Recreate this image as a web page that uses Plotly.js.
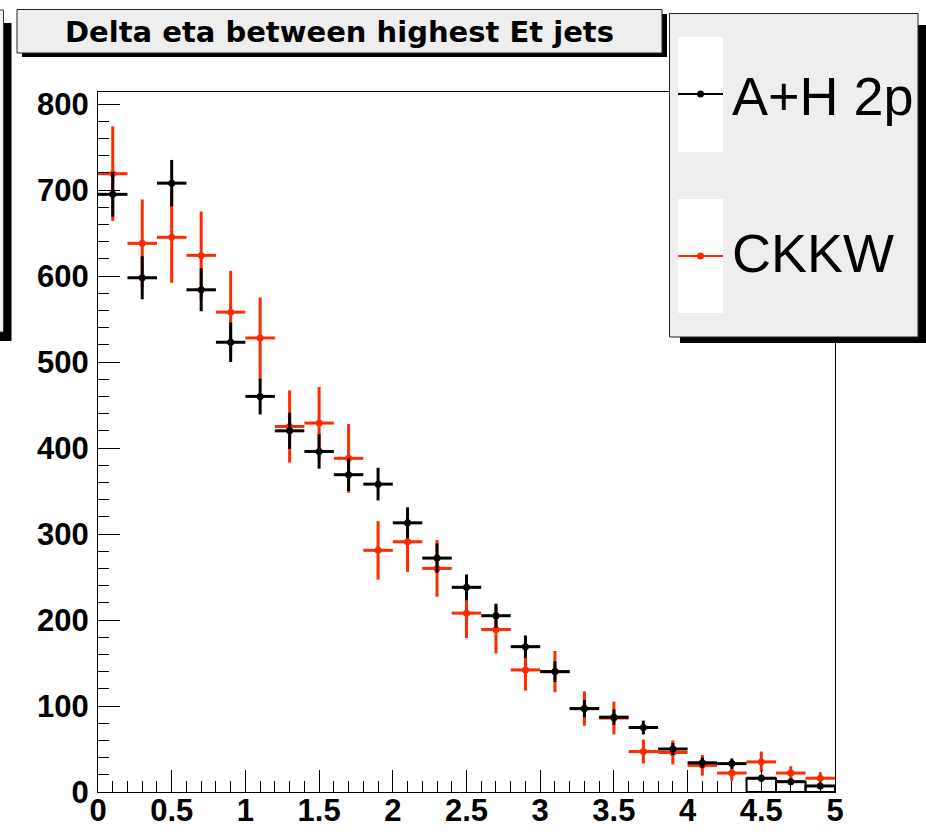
<!DOCTYPE html>
<html>
<head>
<meta charset="utf-8">
<script src="https://cdn.plot.ly/plotly-3.0.1.min.js"></script>
<style>html,body{margin:0;padding:0;background:#fff;}#chart{width:926px;height:832px;}</style>
</head>
<body>
<div id="chart"></div>
<script>
// ---- data ----
const binCenters = [0.1,0.3,0.5,0.7,0.9,1.1,1.3,1.5,1.7,1.9,2.1,2.3,2.5,2.7,2.9,3.1,3.3,3.5,3.7,3.9,4.1,4.3,4.5,4.7,4.9];
const binHalfWidth = 0.1;
const ahValues = [695,598,708,584,523,460,420,396,369,358,313,272,238,205,169,140,97,87,75,50,34,33,16,12,7];
const ahErrors = [26,25,27,25,23,21,21,20,19,19,18,17,15,14,13,12,10,9,8,7,6,6,4,3.5,2.6];
const ckkwValues = [719,638,645,624,558,528,425,429,388,281,291,260,208,189,142,140,97,86,47,46,31,22,35,22,16];
const ckkwErrors = [55,51,53,51,48,47,42,42,40,34,35,33,29,28,24,24,20,19,14,14,12,9,12,8,7];
const seriesNames = ["A+H 2p", "CKKW"];
const chartTitle = "Delta eta between highest Et jets";
const tailStart = 22; // bins drawn also as outlined histogram steps in the reference

// ---- layout helpers (pixel -> paper) ----
const L = 98, R = 835, T = 92, B = 792;
const W = R - L, H = B - T;
const X = px => (px - L) / W;
const Y = py => (B - py) / H;

const RED = '#ff2a00';

const traces = [
  {
    type: 'bar',
    x: binCenters.slice(tailStart),
    y: ahValues.slice(tailStart),
    width: 2 * binHalfWidth,
    marker: {color: 'rgba(255,255,255,0)', line: {color: '#000', width: 2}},
    showlegend: false,
    hoverinfo: 'skip'
  },
  {
    type: 'scatter', mode: 'markers', name: seriesNames[1],
    x: binCenters, y: ckkwValues,
    marker: {color: RED, size: 7},
    error_y: {type: 'data', array: ckkwErrors, visible: true, color: RED, thickness: 3, width: 0},
    error_x: {type: 'constant', value: binHalfWidth, visible: true, color: RED, thickness: 3, width: 0},
    showlegend: false
  },
  {
    type: 'scatter', mode: 'markers', name: seriesNames[0],
    x: binCenters, y: ahValues,
    marker: {color: '#000', size: 7},
    error_y: {type: 'data', array: ahErrors, visible: true, color: '#000', thickness: 3, width: 0},
    error_x: {type: 'constant', value: binHalfWidth, visible: true, color: '#000', thickness: 3, width: 0},
    showlegend: false
  }
];

const tickFont = {family: 'Liberation Sans, Arial, sans-serif', size: 31, color: '#000', weight: 'bold'};

const shapes = [
  // partial box at far left (another pad's shadowed box)
  {type:'rect', xref:'paper', yref:'paper', x0:X(0), x1:X(11.5), y0:Y(341), y1:Y(23), fillcolor:'#000', line:{width:0}, layer:'above'},
  {type:'rect', xref:'paper', yref:'paper', x0:X(-30), x1:X(3.5), y0:Y(332), y1:Y(10), fillcolor:'#f4f4f4', line:{color:'#333', width:1}, layer:'above'},
  // title box with shadow
  {type:'rect', xref:'paper', yref:'paper', x0:X(22), x1:X(667), y0:Y(57), y1:Y(14), fillcolor:'#000', line:{width:0}, layer:'above'},
  {type:'rect', xref:'paper', yref:'paper', x0:X(17), x1:X(662), y0:Y(53), y1:Y(9.5), fillcolor:'#eeeeee', line:{color:'#222', width:1}, layer:'above'},
  // legend box with shadow
  {type:'rect', xref:'paper', yref:'paper', x0:X(680), x1:X(926), y0:Y(343), y1:Y(25), fillcolor:'#000', line:{width:0}, layer:'above'},
  {type:'rect', xref:'paper', yref:'paper', x0:X(669.5), x1:X(918), y0:Y(337), y1:Y(13.5), fillcolor:'#eeeeee', line:{color:'#222', width:1}, layer:'above'},
  // legend symbol backgrounds
  {type:'rect', xref:'paper', yref:'paper', x0:X(678), x1:X(723), y0:Y(152), y1:Y(37), fillcolor:'#ffffff', line:{width:0}, layer:'above'},
  {type:'rect', xref:'paper', yref:'paper', x0:X(678), x1:X(723), y0:Y(313), y1:Y(199), fillcolor:'#ffffff', line:{width:0}, layer:'above'},
  // legend symbols
  {type:'line', xref:'paper', yref:'paper', x0:X(678), x1:X(723), y0:Y(94), y1:Y(94), line:{color:'#000', width:2}, layer:'above'},
  {type:'circle', xref:'paper', yref:'paper', x0:X(697), x1:X(704), y0:Y(97.5), y1:Y(90.5), fillcolor:'#000', line:{width:0}, layer:'above'},
  {type:'line', xref:'paper', yref:'paper', x0:X(678), x1:X(723), y0:Y(256), y1:Y(256), line:{color:RED, width:2}, layer:'above'},
  {type:'circle', xref:'paper', yref:'paper', x0:X(697), x1:X(704), y0:Y(259.5), y1:Y(252.5), fillcolor:RED, line:{width:0}, layer:'above'}
];

const annotations = [
  {xref:'paper', yref:'paper', x:X(339.5), y:Y(32), xanchor:'center', yanchor:'middle', showarrow:false,
   text: chartTitle, font:{family:'DejaVu Sans, Liberation Sans, sans-serif', size:29, color:'#000', weight:'bold'}},
  {xref:'paper', yref:'paper', x:X(730), y:Y(96), xanchor:'left', yanchor:'middle', showarrow:false,
   text: seriesNames[0], font:{family:'Liberation Sans, Arial, sans-serif', size:54, color:'#000'}},
  {xref:'paper', yref:'paper', x:X(730), y:Y(253), xanchor:'left', yanchor:'middle', showarrow:false,
   text: seriesNames[1], font:{family:'Liberation Sans, Arial, sans-serif', size:54, color:'#000'}}
];

const layout = {
  width: 926, height: 832,
  margin: {l: L, r: 926 - R, t: T, b: 832 - B, pad: 0},
  paper_bgcolor: '#fff', plot_bgcolor: '#fff',
  showlegend: false,
  xaxis: {
    range: [0, 5], tickmode: 'linear', tick0: 0, dtick: 0.5,
    ticks: 'inside', ticklen: 22, tickwidth: 1, tickcolor: '#000',
    minor: {ticks: 'inside', dtick: 0.1, ticklen: 11, tickwidth: 1, tickcolor: '#000', showgrid: false},
    showgrid: false, zeroline: false,
    showline: true, linecolor: '#000', linewidth: 1, mirror: true,
    tickfont: tickFont, ticklabelstandoff: -9
  },
  yaxis: {
    range: [0, 814], tickmode: 'linear', tick0: 0, dtick: 100,
    ticks: 'inside', ticklen: 22, tickwidth: 1, tickcolor: '#000',
    minor: {ticks: 'inside', dtick: 20, ticklen: 11, tickwidth: 1, tickcolor: '#000', showgrid: false},
    showgrid: false, zeroline: false,
    showline: true, linecolor: '#000', linewidth: 1, mirror: true,
    tickfont: tickFont, ticklabelstandoff: 2
  },
  shapes: shapes,
  annotations: annotations
};

Plotly.newPlot('chart', traces, layout, {staticPlot: true, displayModeBar: false});
</script>
</body>
</html>
